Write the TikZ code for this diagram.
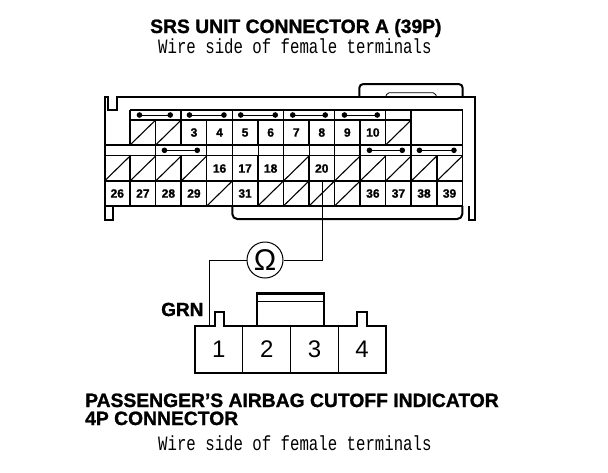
\documentclass[tikz,border=0pt]{standalone}
\usepackage{fontspec}
\setmainfont[BoldFeatures={FakeBold=1.2}]{Liberation Sans}
\newfontfamily\remarkfont[FakeStretch=0.77]{Liberation Mono}
\usetikzlibrary{arrows.meta}
\tikzset{
  outline/.style={line width=2pt},
  grid/.style={line width=1.5pt},
  thin tick/.style={line width=0.5pt},
  slash/.style={line width=1.1pt},
  pinbar/.style={line width=1pt,{Circle[length=5.5pt]}-{Circle[length=5.5pt]}},
  pinno/.style={font=\fontsize{12}{13}\bfseries\selectfont,inner sep=0pt},
  plugno/.style={font=\fontsize{24}{24}\selectfont,inner sep=0pt},
  heading/.style={font=\fontsize{19.3}{15}\bfseries\selectfont,inner sep=0pt,anchor=base west},
  remark/.style={font=\fontsize{20.4}{16}\remarkfont,inner sep=0pt,anchor=base west},
  wire/.style={line width=0.8pt}
}
\def\xo{104.5}
\def\cw{25.56}
\begin{document}
\begin{tikzpicture}[x=1pt,y=-1pt]
    \useasboundingbox (0,0) rectangle (608,472);
    % titles
    \node[heading] (title) at (150,33) {SRS UNIT CONNECTOR A (39P)};
    \node[remark] (side a) at (158,53) {Wire side of female terminals};
    % housing
    \draw[outline] (112.7,206)--(112.7,220)--(104.5,220)--(104.5,97.3)--(108,97.3)--(108,110)--(117,110)--(117,97.3)--(475,97.3)--(475,220)--(469.3,220)--(469.3,206);
    \draw[outline,rounded corners=5pt] (232.3,206)--(232.3,219)--(462.3,219)--(462.3,206);
    \draw[outline,rounded corners=4pt] (359.3,97.3)--(359.3,84)--(462.7,84)--(462.7,97.3);
    \draw[line width=0.8pt,rounded corners=2pt] (385.7,97.3)--(387,92.7)--(435,92.7)--(436.7,97.3);
    % rows
    \draw[grid] (130,110)--(462.3,110)--(462.3,206);
    \draw[grid] (130,110)--(130,145);
    \draw[grid] (130,120)--(411.3,120);
    \draw[grid] (104.5,145)--(462.3,145);
    \draw[grid] (104.5,155.7)--(462.3,155.7);
    \draw[grid] (104.5,181)--(462.3,181);
    \draw[grid] (104.5,206)--(462.3,206);
    % columns
    \foreach \c in {2,...,11}
      \draw[grid] ({\xo+\c*\cw},120)--({\xo+\c*\cw},145);
    \foreach \c in {3,5,7,9,11,12}
      \draw[grid] ({\xo+\c*\cw},110)--({\xo+\c*\cw},120);
    \draw[grid] ({\xo+12*\cw},120)--({\xo+12*\cw},145);
    \foreach \c in {1,...,13}
      \draw[grid] ({\xo+\c*\cw},155.7)--({\xo+\c*\cw},206);
    \foreach \c in {2,4,10,12}
      \draw[grid] ({\xo+\c*\cw},145)--({\xo+\c*\cw},155.7);
    \foreach \c in {5,6,7,8,9}
      \draw[thin tick] ({\xo+\c*\cw},145)--({\xo+\c*\cw},155.7);
    % dead cavities
    \foreach \c/\r in {1/145,2/145,11/145,0/181,1/181,2/181,3/181,7/181,9/181,10/181,11/181,12/181,13/181,4/206,6/206,7/206,8/206,9/206}
      \draw[slash] ({\xo+\c*\cw},\r)--({\xo+(\c+1)*\cw},\r-25);
    % shorting bars
    \foreach \a/\b in {136.7/173,186.7/226.7,238/278,290/328,341.7/380}
      \draw[pinbar] (\a,115)--(\b,115);
    \foreach \a/\b in {161.7/200,366.7/405,416.7/456.7}
      \draw[pinbar] (\a,150.3)--(\b,150.3);
    % pin numbers
    \foreach \c/\t in {3/3,4/4,5/5,6/6,7/7,8/8,9/9,10/10}
      \node[pinno] (pin\t) at ({\xo+(\c+.5)*\cw},132.5) {\t};
    \foreach \c/\t in {4/16,5/17,6/18,8/20}
      \node[pinno] (pin\t) at ({\xo+(\c+.5)*\cw},168.5) {\t};
    \foreach \c/\t in {0/26,1/27,2/28,3/29,5/31,10/36,11/37,12/38,13/39}
      \node[pinno] (pin\t) at ({\xo+(\c+.5)*\cw},193.5) {\t};
    % meter
    \node[draw,circle,line width=1pt,minimum size=36pt,inner sep=0pt,font=\fontsize{30}{30}\selectfont] (meter) at (265,260) {Ω};
    \coordinate (probe a) at (322.3,181.7);
    \coordinate (probe b) at (209.3,326);
    \draw[wire] (probe a)|-(meter.east);
    \draw[wire] (meter.west)-|(probe b);
    \node[font=\fontsize{19}{19}\bfseries\selectfont,inner sep=0pt,anchor=base west] (grn) at (161,316) {GRN};
    % 4P plug
    \draw[outline] (195,326)--(215,326)--(215,311.7)--(224,311.7)--(224,326)--(356.7,326)--(356.7,311.7)--(366.7,311.7)--(366.7,326)--(385.7,326)--(385.7,372.7)--(195,372.7)--cycle;
    \draw[grid] (242.7,326)--(242.7,372.7);
    \draw[thin tick] (290.7,326)--(290.7,372.7);
    \draw[grid] (338.3,326)--(338.3,372.7);
    \draw[line width=2.4pt] (257,326)--(257,293.3)--(324,293.3)--(324,326);
    \draw[thin tick] (257,301.7)--(324,301.7);
    \foreach \x/\t in {218.8/1,266.7/2,314.5/3,362/4}
      \node[plugno] (plug\t) at (\x,349.5) {\t};
    % bottom caption
    \node[heading] (title b) at (85,407) {PASSENGER'S AIRBAG CUTOFF INDICATOR};
    \node[heading] (title c) at (85,425) {4P CONNECTOR};
    \node[remark] (side b) at (158,450) {Wire side of female terminals};
\end{tikzpicture}
\end{document}
